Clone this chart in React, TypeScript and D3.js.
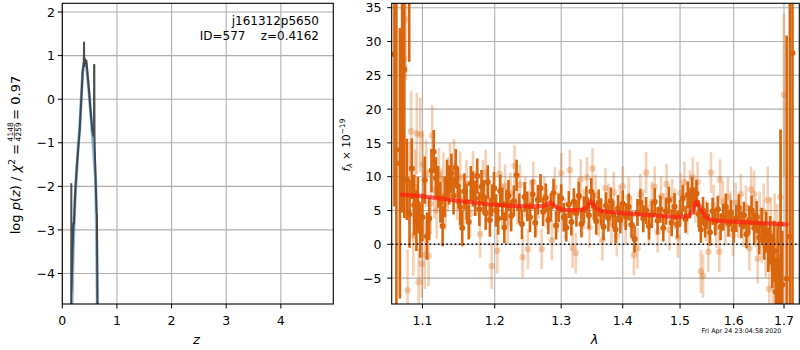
import * as d3 from "d3";
import { useLayoutEffect, useRef, useState } from "react";

// p(z) panel
const zTicks = [0, 1, 2, 3, 4];
const logpTicks = [-4, -3, -2, -1, 0, 1, 2];

const pzSmooth: [number, number][] = [
  [0.176, -4.8], [0.2, -3.45], [0.23, -2.35], [0.264, -1.62], [0.29, -1.12],
  [0.318, -0.68], [0.349, 0.06], [0.373, 0.64], [0.395, 0.83], [0.415, 0.87],
  [0.44, 0.78], [0.47, 0.44], [0.52, -0.32], [0.568, -1.09], [0.61, -1.85],
  [0.626, -3.0], [0.642, -4.8]
];

const pzRaw: [number, number][] = [
  [0.163, -4.8], [0.165, -1.93], [0.168, -4.41], [0.19, -3.3], [0.205, -2.85],
  [0.214, -2.85], [0.24, -2.05], [0.264, -1.6], [0.29, -1.15], [0.318, -0.72],
  [0.349, 0.04], [0.373, 0.62], [0.393, 0.82], [0.398, 1.32], [0.402, 0.74],
  [0.41, 0.95], [0.42, 0.84], [0.43, 0.8], [0.44, 0.9], [0.46, 0.6],
  [0.49, 0.18], [0.52, -0.3], [0.55, -0.72], [0.572, -0.86], [0.58, -0.8],
  [0.582, 0.8], [0.586, 0.78], [0.59, -0.9], [0.61, -1.85], [0.628, -2.6],
  [0.634, -2.65], [0.644, -4.8]
];

// spectrum panel
const waveTicks = [1.1, 1.2, 1.3, 1.4, 1.5, 1.6, 1.7];
const fluxTicks = [-5, 0, 5, 10, 15, 20, 25, 30, 35];

// [wavelength, flux, error]
const darkPts: [number, number, number][] = [
  [1.0635, 28.1, 22.5], [1.066, 14, 30], [1.0705, 12, 20], [1.0734, 29.7, 25],
  [1.0762, 25.9, 22], [1.0826, 45, 18], [1.0795, 9.6, 6], [1.083, 4.5, 5],
  [1.086, 11.2, 4.5], [1.089, 5.8, 4.5], [1.092, 3.5, 4.5], [1.094, 6.0, 4],
  [1.097, 2.0, 4], [1.1, 4.0, 3.5], [1.103, 9.5, 3.5], [1.106, 1.2, 3.5],
  [1.109, 3.8, 3.2], [1.112, 10.9, 3.2], [1.115, 13.7, 3.2], [1.118, 9.8, 3.1],
  [1.121, 8.5, 3.1], [1.124, 6.2, 3], [1.127, 2.7, 3], [1.13, 7.0, 3],
  [1.133, 9.5, 3], [1.136, 8.8, 2.9], [1.139, 10.5, 2.9], [1.142, 7.2, 2.8],
  [1.145, 11.3, 2.8], [1.148, 8.6, 2.8], [1.151, 5.5, 2.7], [1.154, 2.4, 2.7],
  [1.157, 7.8, 2.7], [1.16, 6.3, 2.7], [1.163, 3.3, 2.6], [1.166, 9.0, 2.6],
  [1.169, 8.2, 2.6], [1.172, 6.8, 2.6], [1.175, 10.1, 2.6], [1.178, 5.2, 2.5],
  [1.181, 8.5, 2.5], [1.184, 7.0, 2.5], [1.187, 4.6, 2.5], [1.19, 9.2, 2.5],
  [1.193, 3.6, 2.5], [1.196, 6.5, 2.4], [1.199, 8.3, 2.4], [1.202, 5.0, 2.4],
  [1.205, 3.8, 2.4], [1.208, 7.9, 2.4], [1.211, 6.0, 2.4], [1.214, 2.5, 2.3],
  [1.217, 5.8, 2.3], [1.22, 7.2, 2.3], [1.224, 4.2, 2.3], [1.228, 6.4, 2.3],
  [1.232, 10.2, 2.3], [1.236, 5.3, 2.2], [1.24, 3.0, 2.2], [1.244, 7.0, 2.2],
  [1.248, 5.6, 2.2], [1.252, 4.0, 2.2], [1.256, 7.4, 2.2], [1.26, 3.2, 2.2],
  [1.264, 6.6, 2.2], [1.268, 8.3, 2.1], [1.272, 4.8, 2.1], [1.276, 6.9, 2.1],
  [1.28, 3.6, 2.1], [1.284, 5.5, 2.1], [1.288, 7.6, 2.1], [1.292, 2.8, 2.1],
  [1.296, 5.4, 2.1], [1.3, 6.8, 2.1], [1.304, 4.0, 2.1], [1.308, 2.5, 2.1],
  [1.312, 5.9, 2], [1.316, 3.3, 2], [1.32, 6.3, 2], [1.324, 4.6, 2],
  [1.328, 7.2, 2], [1.332, 3.0, 2], [1.336, 5.1, 2], [1.34, 6.6, 2],
  [1.344, 4.3, 2], [1.348, 7.8, 2], [1.352, 5.6, 2], [1.356, 3.4, 2],
  [1.36, 6.1, 2], [1.364, 4.8, 2], [1.368, 2.6, 2], [1.372, 5.7, 2],
  [1.376, 3.9, 2], [1.38, 6.4, 2], [1.384, 4.4, 2], [1.388, 2.2, 2],
  [1.392, 5.3, 2], [1.396, 3.6, 2], [1.4, 6.0, 2], [1.405, 4.1, 2],
  [1.41, 5.5, 2], [1.415, 2.9, 2], [1.42, 0.8, 2], [1.425, 4.7, 2],
  [1.43, 6.2, 2], [1.435, 3.8, 2], [1.44, 5.0, 2], [1.445, 2.7, 2],
  [1.45, 4.4, 2], [1.455, 6.3, 2], [1.46, 3.5, 2], [1.465, 5.2, 2],
  [1.47, 2.4, 2], [1.475, 4.9, 2], [1.48, 6.5, 2], [1.485, 3.2, 2],
  [1.49, 5.6, 2], [1.495, 2.9, 2], [1.5, 4.6, 2], [1.505, 6.8, 2],
  [1.51, 3.7, 2], [1.514, 7.3, 2], [1.518, 5.8, 2], [1.522, 8.0, 2],
  [1.526, 6.4, 2], [1.53, 7.5, 2], [1.534, 4.5, 2], [1.538, 2.2, 2],
  [1.542, 5.0, 2], [1.546, 3.0, 2], [1.55, 4.2, 2], [1.555, 1.8, 2],
  [1.56, 4.9, 2], [1.565, 3.3, 2], [1.57, 5.2, 2], [1.575, 2.6, 2],
  [1.58, 4.0, 2], [1.585, 5.5, 2], [1.59, 3.1, 2], [1.595, 4.6, 2],
  [1.6, 2.2, 2], [1.605, 3.8, 2], [1.61, 5.4, 2], [1.615, 2.9, 2],
  [1.62, 4.3, 2], [1.625, 1.5, 2.1], [1.63, 3.6, 2.1], [1.635, 5.0, 2.2],
  [1.64, 2.4, 2.3], [1.645, 4.0, 2.4], [1.65, 1.0, 2.5], [1.655, 2.8, 2.6],
  [1.66, 0.5, 2.8], [1.664, 1.8, 3], [1.668, -0.8, 3.3], [1.672, 0.6, 3.6],
  [1.676, -2.5, 4], [1.68, -1.0, 4.5], [1.683, -7, 5], [1.687, -3, 6],
  [1.69, -8, 6], [1.693, 3, 14], [1.6965, -6, 8], [1.7054, -5.1, 36],
  [1.712, 1.1, 45], [1.7175, 28.3, 40]
];

const lightPts: [number, number, number][] = [
  [1.0755, 27.4, 8], [1.078, 33.3, 9], [1.0805, -6.8, 6], [1.083, 9, 6],
  [1.085, 16.7, 6], [1.088, 1.3, 6], [1.0905, 8.5, 5.5], [1.0925, 16.4, 6],
  [1.095, -5.6, 5], [1.097, 16.2, 5.5], [1.099, -2.9, 5], [1.1005, 11.8, 5],
  [1.103, -1.6, 5], [1.105, 10.5, 5], [1.108, -1.7, 4.5], [1.111, 6.0, 4.5],
  [1.113, 16.1, 4.5], [1.116, 8.0, 4.2], [1.119, 5.0, 4.2], [1.122, 10.3, 4],
  [1.125, 7.2, 4], [1.128, 9.6, 4], [1.131, 6.1, 4], [1.134, 8.8, 4],
  [1.137, 10.9, 4], [1.1425, 11.6, 4], [1.147, 7.4, 3.8], [1.151, 9.9, 3.8],
  [1.156, 6.6, 3.8], [1.16, 8.9, 3.6], [1.165, 4.5, 3.6], [1.169, 10.2, 3.6],
  [1.174, 7.8, 3.5], [1.179, 1.5, 3.5], [1.183, 9.0, 3.5], [1.187, 10.6, 3.4],
  [1.191, 6.8, 3.4], [1.1956, -3.2, 3.4], [1.199, 8.2, 3.3], [1.2036, -1.0, 3.3],
  [1.207, 10.4, 3.2], [1.211, 5.8, 3.2], [1.215, 8.6, 3.2], [1.219, 3.2, 3.2],
  [1.223, 7.5, 3.1], [1.229, 11.6, 3.1], [1.233, 6.0, 3.1], [1.237, 8.8, 3],
  [1.241, -1.9, 3], [1.245, 7.0, 3], [1.249, -0.7, 3], [1.253, 6.5, 3],
  [1.257, 9.2, 3], [1.262, 4.2, 3], [1.2697, -0.7, 3], [1.274, 7.0, 3],
  [1.278, 5.3, 3], [1.2855, 0.6, 3], [1.29, 8.4, 3], [1.295, 4.8, 3],
  [1.3, 10.5, 3], [1.306, 3.8, 3], [1.3135, 11.0, 3], [1.318, -0.5, 3],
  [1.323, -1.3, 3], [1.327, 6.8, 3], [1.331, 9.6, 3], [1.336, 5.2, 3],
  [1.341, 9.9, 3], [1.345, 2.5, 3], [1.35, 11.2, 3], [1.355, 7.3, 3],
  [1.36, 4.1, 3], [1.366, 0.6, 3], [1.371, 8.3, 3], [1.376, 6.0, 3],
  [1.381, 3.1, 3], [1.385, 7.7, 3], [1.39, 1.2, 3], [1.395, 5.8, 3],
  [1.4, 8.6, 3], [1.405, 3.0, 3], [1.41, 6.9, 3], [1.414, 4.2, 3],
  [1.419, -1.6, 3], [1.425, -0.6, 3], [1.43, 7.4, 3], [1.435, 5.1, 3],
  [1.44, 10.6, 3], [1.445, 2.9, 3], [1.45, 6.2, 3], [1.455, 8.5, 3],
  [1.46, 1.8, 3], [1.466, 7.1, 3], [1.471, 4.6, 3], [1.476, 8.9, 3],
  [1.481, 2.1, 3], [1.486, 6.7, 3], [1.491, 5.2, 3], [1.496, 1.0, 3],
  [1.501, 7.6, 3], [1.508, 9.2, 3], [1.513, 4.4, 3], [1.518, 8.0, 3],
  [1.523, 9.9, 3], [1.528, 6.2, 3], [1.532, 9.2, 3], [1.538, -4.0, 3.2],
  [1.542, -4.7, 3.2], [1.547, 3.5, 3], [1.552, -1.1, 3], [1.557, 10.6, 3],
  [1.562, 5.8, 3], [1.567, 2.4, 3], [1.5725, -1.1, 3], [1.574, 9.6, 3],
  [1.579, 6.3, 3], [1.584, 3.0, 3], [1.589, 7.0, 3], [1.594, 4.8, 3],
  [1.599, 1.3, 3], [1.604, 6.1, 3], [1.609, 3.9, 3], [1.614, 7.4, 3],
  [1.619, 2.6, 3], [1.624, 5.5, 3.2], [1.6305, -0.6, 3.3], [1.634, 8.1, 3.4],
  [1.64, 7.4, 3.5], [1.643, 3.2, 3.6], [1.647, -2.1, 3.7], [1.651, 4.0, 3.8],
  [1.655, 1.2, 4], [1.659, 4.8, 4.2], [1.663, -0.5, 4.5], [1.667, 6.5, 5],
  [1.67, -6.6, 5], [1.673, 1.5, 5.5], [1.677, -3.2, 6], [1.681, 0.5, 7],
  [1.686, -2, 8], [1.6924, 6.95, 10], [1.7, 22.1, 12]
];

const modelPts: [number, number][] = [
  [1.073, 7.35], [1.1, 7.1], [1.15, 6.4], [1.2, 5.85], [1.25, 5.6], [1.272, 5.65],
  [1.279, 5.95], [1.283, 6.2], [1.288, 5.8], [1.296, 5.3], [1.31, 5.05],
  [1.33, 5.05], [1.34, 5.4], [1.347, 6.35], [1.353, 5.7], [1.362, 5.0],
  [1.4, 4.6], [1.45, 4.3], [1.5, 4.05], [1.515, 4.2], [1.522, 4.9],
  [1.53, 6.3], [1.537, 5.4], [1.545, 4.2], [1.56, 3.6], [1.6, 3.35],
  [1.65, 3.15], [1.7054, 2.95]
];

const FONT = "'DejaVu Sans', sans-serif";
const ORANGE = "#d9660d";
const GRID = "#b0b0b0";

const minus = (v: number) => (v < 0 ? "\u2212" + Math.abs(v) : String(v));

// mathtext-like ylabel: log p(z) / χ² = 4148/4259 = 0.97
function PzLabel() {
  const head = useRef<SVGTextElement>(null);
  const tail = useRef<SVGTextElement>(null);
  const [w, setW] = useState({ head: 100, tail: 46 });
  useLayoutEffect(() => {
    if (head.current && tail.current) {
      setW({ head: head.current.getBBox().width, tail: tail.current.getBBox().width });
    }
  }, []);
  const fracW = 16;
  const total = w.head + fracW + w.tail;
  const x0 = -total / 2;
  const fx = x0 + w.head + fracW / 2;
  return (
    <g transform="translate(19.5,155) rotate(-90)" fontSize={13}>
      <text ref={head} x={x0} y={0} style={{ whiteSpace: "pre" }}>
        <tspan>log </tspan>
        <tspan fontStyle="italic">p</tspan>
        <tspan>(</tspan>
        <tspan fontStyle="italic">z</tspan>
        <tspan>) / </tspan>
        <tspan fontStyle="italic">χ</tspan>
        <tspan fontSize={9} dy={-5}>2</tspan>
        <tspan dy={5}> = </tspan>
      </text>
      <text x={fx} y={-6.6} fontSize={7.5} textAnchor="middle">
        4148
      </text>
      <line x1={fx - 7.5} x2={fx + 7.5} y1={-5.1} y2={-5.1} stroke="#000" strokeWidth={0.6} />
      <text x={fx} y={1.2} fontSize={7.5} textAnchor="middle">
        4259
      </text>
      <text ref={tail} x={x0 + w.head + fracW} y={0} style={{ whiteSpace: "pre" }}>
        {" = 0.97"}
      </text>
    </g>
  );
}

export default function App() {
  const zX = d3.scaleLinear().domain([0, 4.96]).range([62.3, 333.3]);
  const pY = d3.scaleLinear().domain([-4.7, 2.2]).range([304, 3.3]);
  const wX = d3.scaleLog().domain([1.06, 1.7316]).range([391.7, 799.3]);
  const fY = d3.scaleLinear().domain([-8.83, 35.65]).range([304, 3.3]);

  const [lx0, lx1] = zX.range();
  const [rx0, rx1] = wX.range();
  const [yb, yt] = pY.range();

  const pzLine = d3.line<[number, number]>().x((d) => zX(d[0])).y((d) => pY(d[1]));
  const specLine = d3
    .line<[number, number]>()
    .x((d) => wX(d[0]))
    .y((d) => fY(d[1]))
    .curve(d3.curveMonotoneX);

  const tick = 4.5;

  return (
    <div>
      <style>{`body{margin:0}`}</style>
      <svg width={800} height={350} style={{ display: "block", fontFamily: FONT }}>
        <defs>
          <clipPath id="clipL">
            <rect x={lx0} y={yt} width={lx1 - lx0} height={yb - yt} />
          </clipPath>
          <clipPath id="clipR">
            <rect x={rx0} y={yt} width={rx1 - rx0} height={yb - yt} />
          </clipPath>
        </defs>
        <rect width={800} height={350} fill="#fff" />

        {/* left panel grid */}
        <g stroke={GRID} strokeWidth={1.1}>
          {zTicks.map((t) => (
            <line key={t} x1={zX(t)} x2={zX(t)} y1={yt} y2={yb} />
          ))}
          {logpTicks.map((t) => (
            <line key={t} x1={lx0} x2={lx1} y1={pY(t)} y2={pY(t)} />
          ))}
        </g>
        <g clipPath="url(#clipL)" fill="none">
          <path d={pzLine(pzSmooth) ?? ""} stroke="#5b9bd0" strokeOpacity={0.75} strokeWidth={3} />
          <path d={pzLine(pzRaw) ?? ""} stroke="#333" strokeOpacity={0.85} strokeWidth={2} />
        </g>
        <rect x={lx0} y={yt} width={lx1 - lx0} height={yb - yt} fill="none" stroke="#000" strokeWidth={1.1} />
        <g stroke="#000" strokeWidth={1}>
          {zTicks.map((t) => (
            <line key={t} x1={zX(t)} x2={zX(t)} y1={yb} y2={yb + tick} />
          ))}
          {logpTicks.map((t) => (
            <line key={t} x1={lx0 - tick} x2={lx0} y1={pY(t)} y2={pY(t)} />
          ))}
        </g>
        <g fontSize={12.5} fill="#000">
          {zTicks.map((t) => (
            <text key={t} x={zX(t)} y={325} textAnchor="middle">
              {t}
            </text>
          ))}
          {logpTicks.map((t) => (
            <text key={t} x={55} y={pY(t) + 4.6} textAnchor="end">
              {minus(t)}
            </text>
          ))}
        </g>
        <text x={196.5} y={344} fontSize={13} fontStyle="italic" textAnchor="middle">
          z
        </text>
        <g fontSize={12} textAnchor="end">
          <text x={319} y={25}>j161312p5650</text>
          <text x={319} y={39.5} style={{ whiteSpace: "pre" }}>
            {"ID=577    z=0.4162"}
          </text>
        </g>
        <PzLabel />

        {/* right panel grid */}
        <g stroke={GRID} strokeWidth={1.1}>
          {waveTicks.map((t) => (
            <line key={t} x1={wX(t)} x2={wX(t)} y1={yt} y2={yb} />
          ))}
          {fluxTicks.map((t) => (
            <line key={t} x1={rx0} x2={rx1} y1={fY(t)} y2={fY(t)} />
          ))}
        </g>
        <g clipPath="url(#clipR)">
          {lightPts.map(([w, f, e], i) => (
            <g key={i}>
              <line
                x1={wX(w)}
                x2={wX(w)}
                y1={fY(f - e)}
                y2={fY(f + e)}
                stroke={ORANGE}
                strokeOpacity={0.3}
                strokeWidth={2.6}
              />
              <circle cx={wX(w)} cy={fY(f)} r={3.3} fill={ORANGE} fillOpacity={0.3} />
            </g>
          ))}
          {darkPts.map(([w, f, e], i) => (
            <g key={i}>
              <line
                x1={wX(w)}
                x2={wX(w)}
                y1={fY(f - e)}
                y2={fY(f + e)}
                stroke={ORANGE}
                strokeWidth={2.6}
              />
              <circle cx={wX(w)} cy={fY(f)} r={3} fill={ORANGE} />
            </g>
          ))}
          <path
            d={specLine(modelPts) ?? ""}
            fill="none"
            stroke="#ff1e0f"
            strokeOpacity={0.7}
            strokeWidth={4.2}
            strokeLinecap="round"
          />
          <line
            x1={rx0}
            x2={rx1}
            y1={fY(0)}
            y2={fY(0)}
            stroke="#000"
            strokeWidth={1.6}
            strokeDasharray="1.6 2.6"
          />
        </g>
        <rect x={rx0} y={yt} width={rx1 - rx0} height={yb - yt} fill="none" stroke="#000" strokeWidth={1.1} />
        <g stroke="#000" strokeWidth={1}>
          {waveTicks.map((t) => (
            <line key={t} x1={wX(t)} x2={wX(t)} y1={yb} y2={yb + tick} />
          ))}
          {fluxTicks.map((t) => (
            <line key={t} x1={rx0 - tick} x2={rx0} y1={fY(t)} y2={fY(t)} />
          ))}
        </g>
        <g fontSize={12.5} fill="#000">
          {waveTicks.map((t) => (
            <text key={t} x={wX(t)} y={325} textAnchor="middle">
              {d3.format(".1f")(t)}
            </text>
          ))}
          {fluxTicks.map((t) => (
            <text key={t} x={381.5} y={fY(t) + 4.6} textAnchor="end">
              {minus(t)}
            </text>
          ))}
        </g>
        <text x={594.5} y={344} fontSize={13} fontStyle="italic" textAnchor="middle">
          λ
        </text>
        <g transform="translate(349.5,145) rotate(-90)" fontSize={10.5}>
          <text x={0} y={0} textAnchor="middle" style={{ whiteSpace: "pre" }}>
            <tspan fontStyle="italic">f</tspan>
            <tspan fontSize={7.5} fontStyle="italic" dy={2.5}>λ</tspan>
            <tspan dy={-2.5}>{" × 10"}</tspan>
            <tspan fontSize={7.5} dy={-4.5}>−19</tspan>
          </text>
        </g>
        <text x={701.5} y={332.5} fontSize={6.4} fill="#000">
          Fri Apr 24 23:04:58 2020
        </text>
      </svg>
    </div>
  );
}
